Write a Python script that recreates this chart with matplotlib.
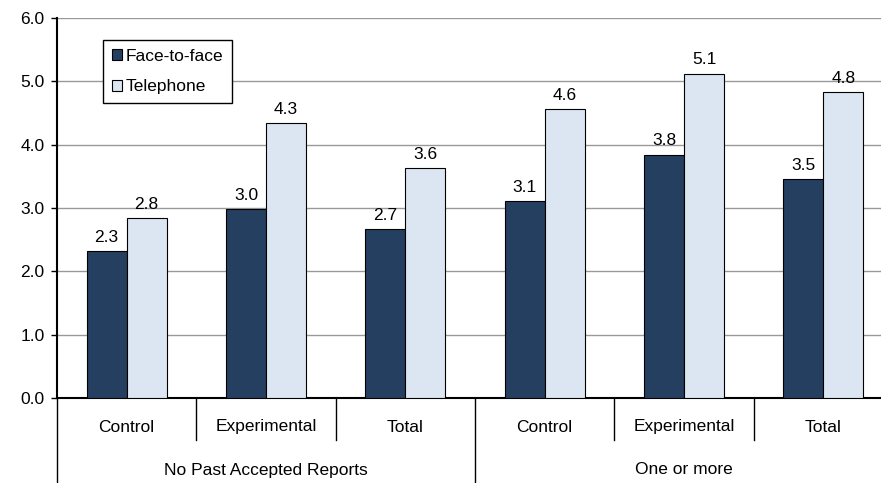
import matplotlib.pyplot as plt
import numpy as np

plt.rcParams['font.family'] = ['Liberation Sans', 'DejaVu Sans']

categories = ["Control", "Experimental", "Total", "Control", "Experimental", "Total"]
groups = ["No Past Accepted Reports", "One or more"]
face = [2.32, 2.98, 2.67, 3.11, 3.84, 3.46]
phone = [2.84, 4.34, 3.63, 4.56, 5.12, 4.83]
series_names = ["Face-to-face", "Telephone"]

fs = 12.5
fig = plt.figure(figsize=(8.81, 4.83), dpi=100)
# axes run a little past the right edge, like the source
L, R, T, B = 57, 893, 18, 398
W, H = 881, 483
ax = fig.add_axes([L / W, 1 - B / H, (R - L) / W, (B - T) / H])

x = np.arange(len(categories))
bw = 0.287
b1 = ax.bar(x - bw / 2, face, bw, color="#243F60", edgecolor="black", linewidth=0.8,
            label=series_names[0], zorder=3)
b2 = ax.bar(x + bw / 2, phone, bw, color="#DCE6F2", edgecolor="black", linewidth=0.8,
            label=series_names[1], zorder=3)
for bars in (b1, b2):
    for r in bars:
        ax.text(r.get_x() + r.get_width() / 2, r.get_height() + 0.1,
                "%.1f" % r.get_height(), ha="center", va="bottom", fontsize=fs)

ax.set_xlim(-0.5, len(categories) - 0.5)
ax.set_ylim(0, 6)
ax.set_yticks(np.arange(0, 6.1, 1))
ax.set_yticklabels(["%.1f" % v for v in np.arange(0, 6.1, 1)], fontsize=fs)
ax.yaxis.grid(True, color="#999999", linewidth=1, zorder=0)
ax.set_axisbelow(True)
ax.tick_params(axis="y", length=4, width=1, color="black", pad=5)
ax.set_xticks([])
for s in ("top", "right"):
    ax.spines[s].set_visible(False)
ax.spines["left"].set_linewidth(1.5)
ax.spines["bottom"].set_linewidth(1.5)

# multi-level category axis
trans = ax.get_xaxis_transform()
for i in range(len(categories)):
    ax.text(i, -29 / (B - T), categories[i], transform=trans, ha="center", va="center",
            fontsize=fs)
for b in range(1, len(categories)):
    if b % 3 == 0:
        continue
    ax.plot([b - 0.5, b - 0.5], [0, -42 / (B - T)], transform=trans, color="black",
            linewidth=1, clip_on=False)
for b in range(0, len(categories) + 1, 3):
    ax.plot([b - 0.5, b - 0.5], [0, -0.23], transform=trans, color="black",
            linewidth=1, clip_on=False)
for g, name in enumerate(groups):
    ax.text(g * 3 + 1, -72 / (B - T), name, transform=trans, ha="center", va="center",
            fontsize=fs)

leg = ax.legend(loc="upper left", bbox_to_anchor=(46 / (R - L), 1 - 22 / (B - T)),
                fontsize=fs, frameon=True, fancybox=False, edgecolor="black",
                handlelength=0.6, handleheight=0.6, handletextpad=0.2,
                labelspacing=0.9, borderpad=0.5, borderaxespad=0, framealpha=1)
leg.get_frame().set_linewidth(1)

fig.savefig("out.png", dpi=100)
